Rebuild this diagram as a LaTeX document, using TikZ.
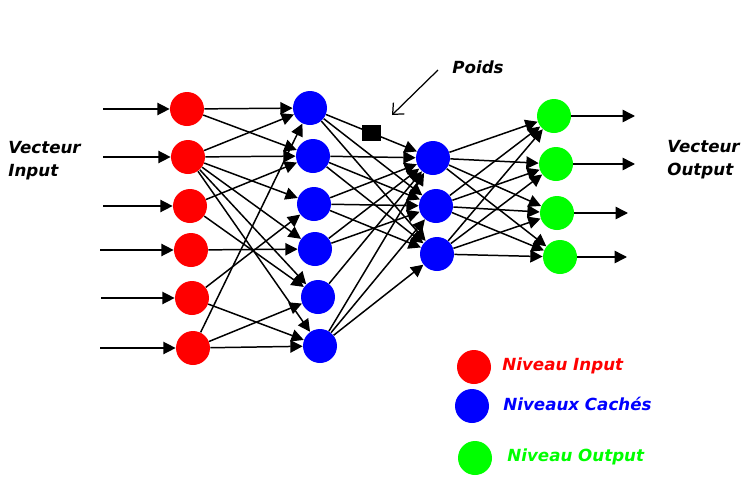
\documentclass[tikz,border=0pt]{standalone}
\usepackage{fontspec}
\setmainfont{DejaVu Sans}
\usepackage{tikz}
\usetikzlibrary{arrows.meta}

\begin{document}
\begin{tikzpicture}[
  neuron/.style={circle, minimum size=0.68cm, inner sep=0pt},
  conn/.style={line width=0.85pt, -{Triangle[length=7pt,width=7pt]}},
  txt/.style={font=\fontsize{9.5}{13}\selectfont\bfseries\itshape, inner sep=0pt, align=left}
]
\useasboundingbox (0,0) rectangle (15,9.8);

% input layer
\node[neuron, fill=red] (In1) at (3.74,7.62) {};
\node[neuron, fill=red] (In2) at (3.76,6.66) {};
\node[neuron, fill=red] (In3) at (3.80,5.68) {};
\node[neuron, fill=red] (In4) at (3.82,4.80) {};
\node[neuron, fill=red] (In5) at (3.84,3.84) {};
\node[neuron, fill=red] (In6) at (3.86,2.84) {};
% first hidden layer
\node[neuron, fill=blue] (Hid1) at (6.20,7.64) {};
\node[neuron, fill=blue] (Hid2) at (6.26,6.68) {};
\node[neuron, fill=blue] (Hid3) at (6.28,5.72) {};
\node[neuron, fill=blue] (Hid4) at (6.30,4.82) {};
\node[neuron, fill=blue] (Hid5) at (6.36,3.86) {};
\node[neuron, fill=blue] (Hid6) at (6.40,2.88) {};
% second hidden layer
\node[neuron, fill=blue] (Mid1) at (8.66,6.64) {};
\node[neuron, fill=blue] (Mid2) at (8.72,5.68) {};
\node[neuron, fill=blue] (Mid3) at (8.74,4.72) {};
% output layer
\node[neuron, fill=green] (Out1) at (11.08,7.48) {};
\node[neuron, fill=green] (Out2) at (11.12,6.52) {};
\node[neuron, fill=green] (Out3) at (11.14,5.54) {};
\node[neuron, fill=green] (Out4) at (11.20,4.66) {};

% free ends of the input and output vectors
\coordinate (x1) at (2.06,7.62);
\coordinate (x2) at (2.06,6.66);
\coordinate (x3) at (2.06,5.68);
\coordinate (x4) at (2.00,4.80);
\coordinate (x5) at (2.02,3.84);
\coordinate (x6) at (2.00,2.84);
\coordinate (y1) at (12.70,7.48);
\coordinate (y2) at (12.70,6.52);
\coordinate (y3) at (12.56,5.54);
\coordinate (y4) at (12.54,4.66);

\draw[conn] (x1) -- (In1);
\draw[conn] (x2) -- (In2);
\draw[conn] (x3) -- (In3);
\draw[conn] (x4) -- (In4);
\draw[conn] (x5) -- (In5);
\draw[conn] (x6) -- (In6);

% input -> hidden
\draw[conn] (In1) -- (Hid1);
\draw[conn] (In1) -- (Hid2);
\draw[conn] (In2) -- (Hid1);
\draw[conn] (In2) -- (Hid2);
\draw[conn] (In2) -- (Hid3);
\draw[conn] (In2) -- (Hid4);
\draw[conn] (In2) -- (Hid5);
\draw[conn] (In2) -- (Hid6);
\draw[conn] (In3) -- (Hid2);
\draw[conn] (In3) -- (Hid5);
\draw[conn] (In4) -- (Hid4);
\draw[conn] (In5) -- (Hid3);
\draw[conn] (In5) -- (Hid6);
\draw[conn] (In6) -- (Hid1);
\draw[conn] (In6) -- (Hid5);
\draw[conn] (In6) -- (Hid6);

% hidden -> hidden
\draw[conn] (Hid1) -- node[fill=black, minimum width=0.38cm, minimum height=0.32cm, inner sep=0pt] (W) {} (Mid1);
\draw[conn] (Hid1) -- (Mid2);
\draw[conn] (Hid1) -- (Mid3);
\draw[conn] (Hid2) -- (Mid1);
\draw[conn] (Hid2) -- (Mid2);
\draw[conn] (Hid2) -- (Mid3);
\draw[conn] (Hid3) -- (Mid1);
\draw[conn] (Hid3) -- (Mid2);
\draw[conn] (Hid3) -- (Mid3);
\draw[conn] (Hid4) -- (Mid1);
\draw[conn] (Hid4) -- (Mid2);
\draw[conn] (Hid5) -- (Mid1);
\draw[conn] (Hid6) -- (Mid1);
\draw[conn] (Hid6) -- (Mid2);
\draw[conn] (Hid6) -- (Mid3);

% hidden -> output
\draw[conn] (Mid1) -- (Out1);
\draw[conn] (Mid1) -- (Out2);
\draw[conn] (Mid1) -- (Out3);
\draw[conn] (Mid1) -- (Out4);
\draw[conn] (Mid2) -- (Out1);
\draw[conn] (Mid2) -- (Out2);
\draw[conn] (Mid2) -- (Out3);
\draw[conn] (Mid2) -- (Out4);
\draw[conn] (Mid3) -- (Out1);
\draw[conn] (Mid3) -- (Out2);
\draw[conn] (Mid3) -- (Out3);
\draw[conn] (Mid3) -- (Out4);

\draw[conn] (Out1) -- (y1);
\draw[conn] (Out2) -- (y2);
\draw[conn] (Out3) -- (y3);
\draw[conn] (Out4) -- (y4);

% weight label
\node[txt, anchor=west] (P) at (9.04,8.46) {Poids};
\coordinate (Ptail) at (8.76,8.40);
\coordinate (Ptip) at (7.84,7.50);
\draw[line width=0.7pt, -{Straight Barb[length=5pt,width=9pt]}] (Ptail) -- (Ptip);

% vector labels
\node[txt, anchor=west] (VI) at (0.16,6.58) {Vecteur\\Input};
\node[txt, anchor=west] (VO) at (13.34,6.60) {Vecteur\\Output};

% legend
\node[neuron, fill=red] (L1) at (9.48,2.46) {};
\node[neuron, fill=blue] (L2) at (9.44,1.68) {};
\node[neuron, fill=green] (L3) at (9.50,0.64) {};
\node[txt, anchor=west, text=red] (T1) at (10.04,2.48) {Niveau Input};
\node[txt, anchor=west, text=blue] (T2) at (10.06,1.72) {Niveaux Cachés};
\node[txt, anchor=west, text=green] (T3) at (10.14,0.66) {Niveau Output};
\end{tikzpicture}
\end{document}
